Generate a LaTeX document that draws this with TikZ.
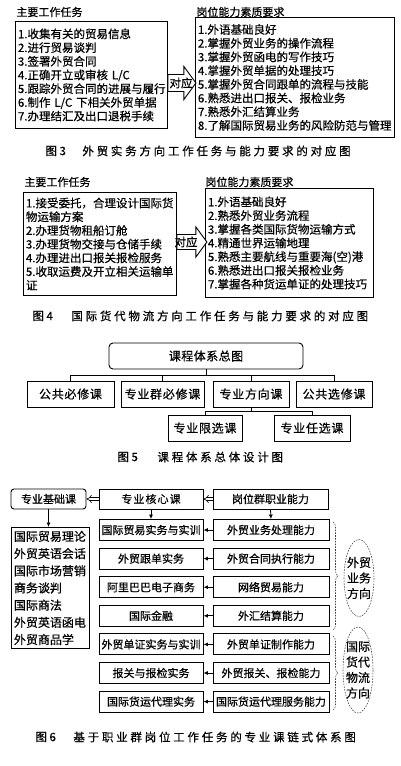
\documentclass[tikz,border=0pt]{standalone}
\usepackage{fontspec}
\setmainfont{Noto Sans CJK SC}[FakeBold=0.5]
\usetikzlibrary{
    arrows.meta,
    positioning,
    calc,
    decorations.pathreplacing
}
\newcommand{\fs}[2]{\fontsize{#1}{#2}\selectfont}
\newcommand{\spaced}[1]{\addfontfeature{LetterSpace=#1}}

\begin{document}
\begin{tikzpicture}[
    x=1pt, y=-1pt,
    >=Latex,
    font=\fs{11.5}{13.7},
    line width=0.9pt,
    head/.style={anchor=west, inner sep=0pt, font=\fs{11}{13}},
    listbox/.style={draw, anchor=north west, align=left, inner xsep=2.5pt, inner ysep=0pt},
    capno/.style={anchor=west, inner sep=0pt, font=\fs{11.5}{13}},
    captext/.style={anchor=west, inner sep=0pt, font=\fs{11.5}{13}\spaced{24}},
    hollow/.style={draw, fill=white, line width=0.9pt, line join=miter},
    course/.style={draw, minimum height=21pt, inner sep=0pt, font=\fs{11}{13}},
    kbox/.style={draw, minimum height=26pt, inner sep=0pt, font=\fs{12}{14}\spaced{6}},
    hint/.style={black!75, line width=0.55pt, dash pattern=on 1.6pt off 1.2pt},
    dirtext/.style={inner sep=0pt, align=center, font=\fs{12}{15.5}},
    link/.style={->, >={Latex[length=4.5pt, width=4pt]}, line width=0.8pt},
    fat/.style={double, double distance=2.2pt, line width=0.6pt, -{Implies}}
]

\useasboundingbox (0,0) rectangle (400,766);

\newcommand{\duiying}[5]{%
    \draw[hollow] (#1) -- ++(0,-#4) -- ++(#2,0) -- ++(0,#4-#5) -- ++(#3,#5)
        -- ++(-#3,#5) -- ++(0,#4-#5) -- ++(-#2,0) -- cycle;
}

% ============================================================
% FIGURE 3
% ============================================================

\node[head] (h3l) at (16,12) {主要工作任务};
\node[head] (h3r) at (196,12) {岗位能力素质要求};

\node[listbox, text width=147pt, minimum height=107pt] (task3) at (15,21) {
    1.收集有关的贸易信息\\
    2.进行贸易谈判\\
    3.签署外贸合同\\
    4.正确开立或审核 L/C\\
    5.跟踪外贸合同的进展与履行\\
    6.制作 L/C 下相关外贸单据\\
    7.办理结汇及出口退税手续
};

\node[listbox, text width=194pt, minimum height=120pt] (req3) at (195,17) {
    1.外语基础良好\\
    2.掌握外贸业务的操作流程\\
    3.掌握外贸函电的写作技巧\\
    4.掌握外贸单据的处理技巧\\
    5.掌握外贸合同跟单的流程与技能\\
    6.熟悉进出口报关、报检业务\\
    7.熟悉外汇结算业务\\
    8.了解国际贸易业务的风险防范与管理
};

\coordinate (m3) at (0,83);
\duiying{task3.east |- m3}{16}{12}{8.5}{16.5}
\node[inner sep=0pt] (dy3) at (181,83) {对应};

\node[capno] (fig3no) at (45,151) {图 3};
\node[captext] (fig3cap) at (82,151) {外贸实务方向工作任务与能力要求的对应图};

% ============================================================
% FIGURE 4
% ============================================================

\node[head] (h4l) at (24,182) {主要工作任务};
\node[head] (h4r) at (205,182) {岗位能力素质要求};

\node[listbox, text width=148pt, minimum height=103pt] (task4) at (23,192) {
    1.接受委托，合理设计国际货\\
    物运输方案\\
    2.办理货物租船订舱\\
    3.办理货物交接与仓储手续\\
    4.办理进出口报关报检服务\\
    5.收取运费及开立相关运输单\\
    证
};

\node[listbox, text width=163pt, minimum height=109pt] (req4) at (205,188) {
    1.外语基础良好\\
    2.熟悉外贸业务流程\\
    3.掌握各类国际货物运输方式\\
    4.精通世界运输地理\\
    5.熟悉主要航线与重要海(空)港\\
    6.熟悉进出口报关报检业务\\
    7.掌握各种货运单证的处理技巧
};

\coordinate (m4) at (0,242);
\duiying{task4.east |- m4}{19}{11}{7.5}{15}
\node[inner sep=0pt] (dy4) at (186,242) {对应};

\node[capno] (fig4no) at (32,316) {图 4};
\node[captext] (fig4cap) at (71,316) {国际货代物流方向工作任务与能力要求的对应图};

% ============================================================
% FIGURE 5
% ============================================================

\node[kbox, rounded corners=4pt, minimum width=194pt, font=\fs{12}{14}\spaced{4}] (total) at (206,356) {课程体系总图};

\node[kbox, minimum width=87pt] (gbx) at (70.5,394) {公共必修课};
\node[kbox, minimum width=83pt] (qbx) at (162.5,394) {专业群必修课};
\node[kbox, minimum width=76pt] (fxk) at (251,394) {专业方向课};
\node[kbox, minimum width=76pt] (gxx) at (334,394) {公共选修课};

\node[kbox, minimum width=74pt] (xxk) at (205,428) {专业限选课};
\node[kbox, minimum width=76pt] (rxk) at (312,428) {专业任选课};

\coordinate (bus5) at ($(total.south)+(0,6)$);
\coordinate (bus5b) at ($(fxk.south)+(0,4)$);
\foreach \c in {gbx,qbx,fxk,gxx} {
    \draw (total.south) -- (bus5) -| (\c.north);
}
\foreach \c in {xxk,rxk} {
    \draw (fxk.south) -- (bus5b) -| (\c.north);
}

\node[capno] (fig5no) at (117,457) {图 5};
\node[captext] (fig5cap) at (157,457) {课程体系总体设计图};

% ============================================================
% FIGURE 6
% ============================================================

\node[course, rounded corners=3pt, minimum width=75pt, minimum height=20pt] (jichu) at (48.5,499) {专业基础课};
\node[course, minimum width=104pt, minimum height=20pt] (hexin) at (151,499) {\spaced{10}专业核心课};
\node[course, minimum width=115pt, minimum height=20pt] (gangwei) at (270.5,499) {岗位群职业能力};

\draw[fat] (hexin.west) -- (jichu.east);
\draw[fat] (gangwei.west) -- (hexin.east);

\node[listbox, text width=73pt, minimum height=121pt, font=\fs{12}{17.2}] (basic) at (11,527) {
    国际贸易理论\\
    外贸英语会话\\
    国际市场营销\\
    商务谈判\\
    国际商法\\
    外贸英语函电\\
    外贸商品学
};

\def\yo{530}
\def\dy{28.6}

\newcommand{\chain}[3]{%
    \node[course, minimum width=104pt] (co#1) at (151,{\yo+(#1-1)*\dy}) {#2};
    \node[course, minimum width=116pt] (ab#1) at (271,{\yo+(#1-1)*\dy}) {#3};
    \draw[link] (ab#1.west) -- (co#1.east);
}

\chain{1}{国际贸易实务与实训}{外贸业务处理能力}
\chain{2}{外贸跟单实务}{外贸合同执行能力}
\chain{3}{阿里巴巴电子商务}{网络贸易能力}
\chain{4}{国际金融}{外汇结算能力}
\chain{5}{外贸单证实务与实训}{外贸单证制作能力}
\chain{6}{报关与报检实务}{外贸报关、报检能力}
\chain{7}{国际货运代理实务}{国际货运代理服务能力}

\draw[link] (jichu.south) -- (jichu.south |- basic.north);
\draw[link] (hexin.south) -- (co1.north);
\draw[link] (gangwei.south) -- (ab1.north);

\coordinate (b1t) at (333,522);
\coordinate (b1b) at (333,630);
\coordinate (b2t) at (333,636);
\coordinate (b2b) at (333,710);
\draw[hint, decorate, decoration={brace, amplitude=5pt}] (b1t) -- (b1b);
\draw[hint, decorate, decoration={brace, amplitude=5pt}] (b2t) -- (b2b);

\node[dirtext] (wm) at (359,578) {外贸\\业务\\方向};
\node[dirtext] (hd) at (358,670) {国际\\货代\\物流\\方向};
\draw[hint] (wm) ellipse [x radius=15, y radius=38.5];
\draw[hint] (hd) ellipse [x radius=15, y radius=43];

\node[capno] (fig6no) at (35,737) {图 6};
\node[captext] (fig6cap) at (73,737) {基于职业群岗位工作任务的专业课链式体系图};

\end{tikzpicture}
\end{document}
